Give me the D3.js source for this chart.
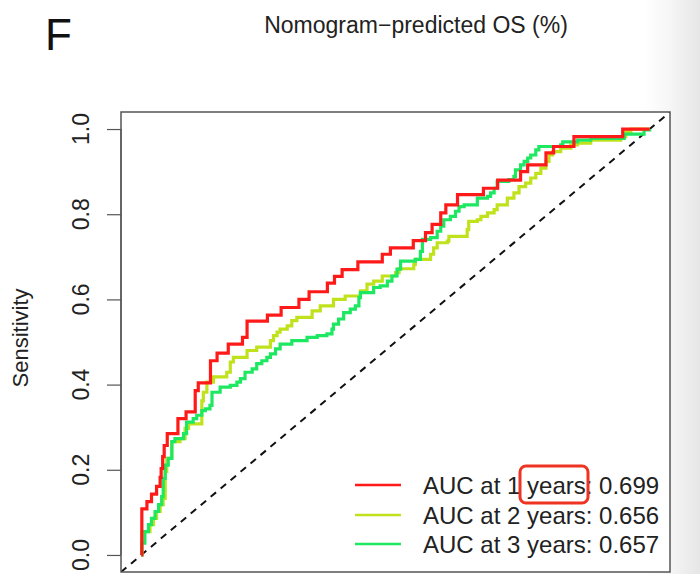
<!DOCTYPE html>
<html>
<head>
<meta charset="utf-8">
<script src="https://cdn.jsdelivr.net/npm/d3@7"></script>
<style>
  html, body { margin: 0; padding: 0; background: #ffffff; }
  svg { display: block; font-family: "Liberation Sans", Arial, Helvetica, sans-serif; }
</style>
</head>
<body>
<svg id="chart" width="700" height="574"></svg>
<script>
// ---- data (false positive rate = 1 - specificity, sensitivity) ----
const panelLabel = "F";
const chartTitle = "Nomogram\u2212predicted OS (%)";
const yAxisTitle = "Sensitivity";
const yTicks = [0, 0.2, 0.4, 0.6, 0.8, 1.0];
const seriesNames = ["AUC at 1 years: 0.699", "AUC at 2 years: 0.656", "AUC at 3 years: 0.657"];
const seriesColors = ["#ff1a1a", "#c0e21c", "#1ee862"];

const roc1Year = [
  [0,0],[0.001,0.108],[0.011,0.125],[0.020,0.143],[0.030,0.161],[0.037,0.182],
  [0.039,0.203],[0.042,0.231],[0.045,0.257],[0.051,0.285],[0.072,0.320],[0.088,0.336],
  [0.106,0.386],[0.112,0.404],[0.136,0.456],[0.149,0.474],[0.171,0.495],[0.199,0.511],
  [0.208,0.549],[0.248,0.563],[0.275,0.581],[0.310,0.600],[0.330,0.618],[0.366,0.638],
  [0.380,0.654],[0.395,0.670],[0.426,0.688],[0.474,0.706],[0.490,0.721],[0.535,0.738],
  [0.559,0.757],[0.572,0.776],[0.589,0.803],[0.599,0.822],[0.622,0.846],[0.673,0.861],
  [0.701,0.880],[0.746,0.900],[0.760,0.916],[0.796,0.944],[0.811,0.959],[0.851,0.982],
  [0.947,1.0],[1,1]
];
const roc2Year = [
  [0,0],[0.001,0.055],[0.017,0.071],[0.024,0.086],[0.030,0.102],[0.037,0.118],
  [0.043,0.133],[0.047,0.196],[0.050,0.227],[0.060,0.266],[0.076,0.273],[0.086,0.297],
  [0.093,0.308],[0.119,0.362],[0.122,0.382],[0.129,0.406],[0.142,0.418],[0.168,0.429],
  [0.175,0.453],[0.181,0.464],[0.208,0.480],[0.227,0.488],[0.254,0.503],[0.260,0.515],
  [0.267,0.523],[0.273,0.530],[0.287,0.538],[0.296,0.550],[0.306,0.558],[0.336,0.573],
  [0.352,0.585],[0.378,0.600],[0.401,0.608],[0.431,0.620],[0.444,0.636],[0.457,0.643],
  [0.474,0.655],[0.500,0.663],[0.507,0.672],[0.536,0.682],[0.539,0.694],[0.569,0.706],
  [0.575,0.721],[0.582,0.733],[0.602,0.737],[0.605,0.748],[0.641,0.764],[0.644,0.783],
  [0.661,0.787],[0.668,0.795],[0.681,0.803],[0.694,0.811],[0.700,0.822],[0.720,0.838],
  [0.733,0.850],[0.743,0.865],[0.756,0.873],[0.766,0.885],[0.776,0.896],[0.786,0.908],
  [0.796,0.924],[0.802,0.939],[0.809,0.947],[0.825,0.955],[0.845,0.963],[0.858,0.967],
  [0.884,0.974],[0.943,0.982],[0.953,0.994],[0.963,1.0],[1,1]
];
const roc3Year = [
  [0,0],[0.001,0.028],[0.007,0.055],[0.014,0.071],[0.020,0.086],[0.027,0.102],
  [0.034,0.118],[0.040,0.137],[0.043,0.180],[0.047,0.211],[0.053,0.227],[0.060,0.266],
  [0.066,0.273],[0.083,0.285],[0.089,0.312],[0.102,0.320],[0.109,0.328],[0.119,0.339],
  [0.126,0.343],[0.135,0.351],[0.139,0.382],[0.155,0.394],[0.175,0.398],[0.188,0.406],
  [0.195,0.414],[0.204,0.429],[0.218,0.437],[0.227,0.449],[0.237,0.456],[0.247,0.464],
  [0.254,0.472],[0.264,0.484],[0.273,0.495],[0.296,0.503],[0.326,0.511],[0.346,0.515],
  [0.365,0.519],[0.375,0.530],[0.378,0.542],[0.388,0.554],[0.398,0.569],[0.411,0.577],
  [0.421,0.585],[0.428,0.604],[0.431,0.616],[0.457,0.628],[0.470,0.632],[0.484,0.643],
  [0.493,0.655],[0.503,0.671],[0.510,0.690],[0.539,0.694],[0.549,0.713],[0.553,0.741],
  [0.569,0.745],[0.582,0.760],[0.589,0.772],[0.595,0.787],[0.608,0.795],[0.618,0.807],
  [0.625,0.818],[0.635,0.822],[0.661,0.838],[0.681,0.842],[0.687,0.850],[0.694,0.861],
  [0.700,0.877],[0.723,0.881],[0.733,0.889],[0.736,0.904],[0.746,0.916],[0.753,0.924],
  [0.760,0.932],[0.766,0.939],[0.776,0.951],[0.782,0.959],[0.825,0.963],[0.829,0.970],
  [0.858,0.974],[0.884,0.978],[0.950,0.988],[0.989,0.998],[1,1]
];
const seriesData = [roc1Year, roc2Year, roc3Year];
const referenceLine = [[-0.04,-0.04],[1.04,1.04]];

// ---- drawing ----
const svg = d3.select("#chart");
const W = 700, H = 574;
const box = {left: 121, right: 670, top: 112, bottom: 572};

const x = d3.scaleLinear().domain([-0.04, 1.04]).range([box.left, box.right]);
const y = d3.scaleLinear().domain([-0.04, 1.04]).range([box.bottom, box.top]);

// background with screenshot shadow on the right
const defs = svg.append("defs");
const grad = defs.append("linearGradient").attr("id", "shade").attr("x1", "0").attr("x2", "1").attr("y1", "0").attr("y2", "0");
grad.append("stop").attr("offset", "0").attr("stop-color", "#ffffff");
grad.append("stop").attr("offset", "0.45").attr("stop-color", "#f6f6f6");
grad.append("stop").attr("offset", "1").attr("stop-color", "#e6e6e6");
svg.append("rect").attr("width", W).attr("height", H).attr("fill", "#ffffff");
svg.append("rect").attr("x", 645).attr("y", 0).attr("width", W - 645).attr("height", H).attr("fill", "url(#shade)");
svg.append("rect").attr("x", box.left).attr("y", box.top)
  .attr("width", box.right - box.left).attr("height", box.bottom - box.top).attr("fill", "#ffffff");

defs.append("clipPath").attr("id", "plotclip").append("rect")
  .attr("x", box.left).attr("y", box.top)
  .attr("width", box.right - box.left).attr("height", box.bottom - box.top);

const plot = svg.append("g").attr("clip-path", "url(#plotclip)");

// chance line
plot.append("path")
  .datum(referenceLine)
  .attr("d", d3.line().x(d => x(d[0])).y(d => y(d[1])))
  .attr("fill", "none").attr("stroke", "#111").attr("stroke-width", 2)
  .attr("stroke-dasharray", "7,6");

// ROC curves
const line = d3.line().x(d => x(d[0])).y(d => y(d[1])).curve(d3.curveStepAfter);
[1, 2, 0].forEach(i => {
  plot.append("path")
    .datum(seriesData[i])
    .attr("d", line)
    .attr("fill", "none")
    .attr("stroke", seriesColors[i])
    .attr("stroke-width", 3.2)
    .attr("stroke-linejoin", "miter");
});

// box
svg.append("rect").attr("x", box.left).attr("y", box.top)
  .attr("width", box.right - box.left).attr("height", box.bottom - box.top)
  .attr("fill", "none").attr("stroke", "#555").attr("stroke-width", 1.5);

// y axis
const yAxis = d3.axisLeft(y).tickValues(yTicks).tickSize(14).tickSizeOuter(0).tickFormat("");
const yg = svg.append("g").attr("transform", `translate(${box.left},0)`).call(yAxis);
yg.select(".domain").attr("stroke", "#555").attr("stroke-width", 1.2)
  .attr("d", `M0,${y(0)}V${y(1)}`);
yg.selectAll(".tick line").attr("stroke", "#555").attr("stroke-width", 1.2);

svg.append("g").selectAll("text").data(yTicks).join("text")
  .attr("transform", d => `translate(89,${y(d)}) rotate(-90)`)
  .attr("text-anchor", "middle")
  .attr("font-size", 23)
  .attr("fill", "#222")
  .text(d => d3.format(".1f")(d));

svg.append("text")
  .attr("transform", `translate(28,${(box.top + box.bottom) / 2 - 4}) rotate(-90)`)
  .attr("text-anchor", "middle")
  .attr("font-size", 22)
  .attr("fill", "#222")
  .text(yAxisTitle);

// title and panel label
svg.append("text").attr("x", 416).attr("y", 33).attr("text-anchor", "middle")
  .attr("font-size", 23).attr("fill", "#222").text(chartTitle);
svg.append("text").attr("x", 45).attr("y", 50)
  .attr("font-size", 44).attr("fill", "#111").text(panelLabel);

// legend
const legendRowsY = [485, 515, 544];
const lg = svg.append("g");
seriesNames.forEach((name, i) => {
  lg.append("line").attr("x1", 355).attr("x2", 401)
    .attr("y1", legendRowsY[i]).attr("y2", legendRowsY[i])
    .attr("stroke", seriesColors[i]).attr("stroke-width", 2.5);
  lg.append("text").attr("x", 423).attr("y", legendRowsY[i] + 8.5)
    .attr("font-size", 24).attr("fill", "#222").text(name);
});

// highlight box around "years" (annotation in the reference)
svg.append("rect").attr("x", 520).attr("y", 466).attr("width", 68).attr("height", 37)
  .attr("rx", 6).attr("fill", "none").attr("stroke", "#ee3322").attr("stroke-width", 3);
</script>
</body>
</html>
